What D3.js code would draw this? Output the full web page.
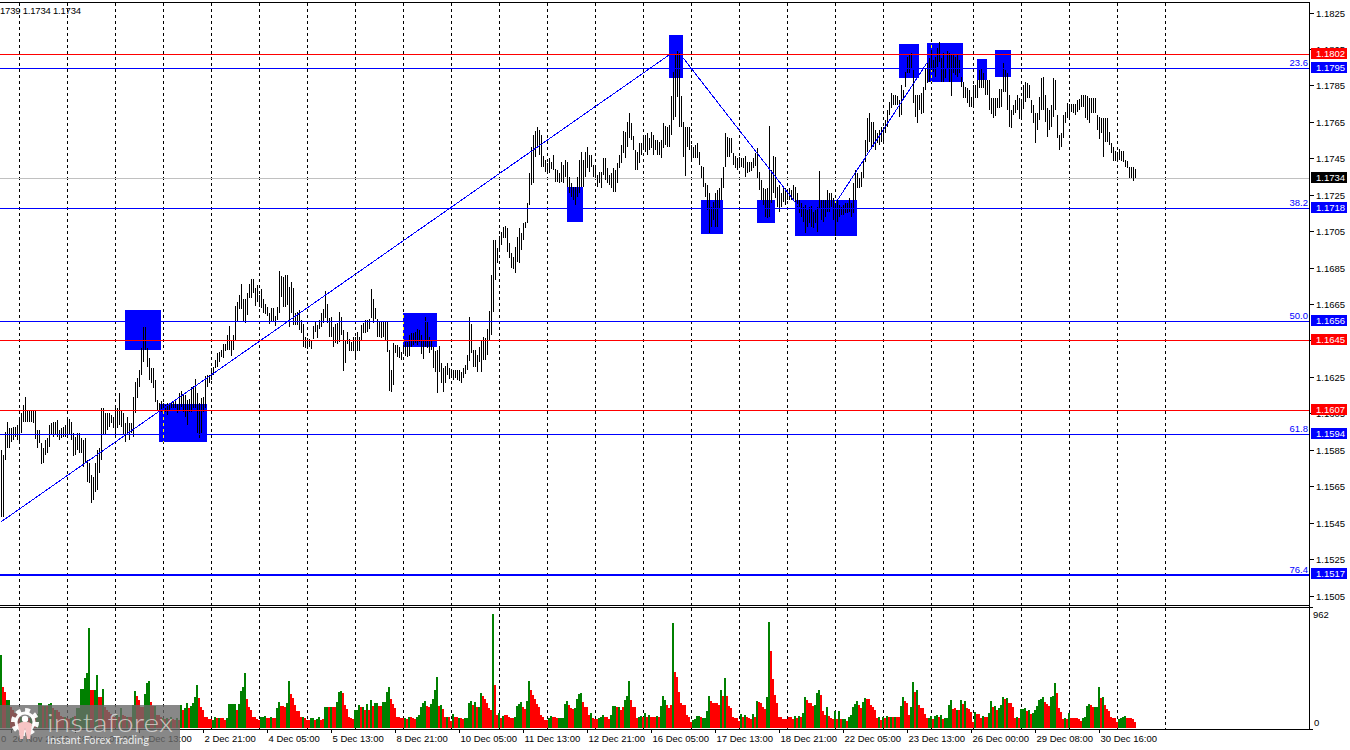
<!DOCTYPE html>
<html><head><meta charset="utf-8">
<script src="https://cdn.jsdelivr.net/npm/d3@7/dist/d3.min.js"></script>
<style>
html,body{margin:0;padding:0;background:#fff;overflow:hidden}
svg{display:block}
text{font-family:"Liberation Sans",Arial,sans-serif;font-size:9.5px}
</style></head><body>
<svg id="c" width="1350" height="750"></svg>
<script>
// H1 bars, oldest first, 12 bars per row
const barHighs=[
1.15851,1.15823,1.15949,1.16004,1.15971,1.15971,1.15977,1.15977,1.15988,1.16032,1.16054,1.16098,
1.16142,1.16070,1.16070,1.16070,1.16065,1.16065,1.15960,1.15960,1.15889,1.15862,1.15905,1.15916,
1.15988,1.15999,1.16004,1.16004,1.16015,1.15960,1.15971,1.15977,1.15988,1.16015,1.16021,1.16004,
1.15944,1.15922,1.15944,1.15944,1.15916,1.15905,1.15916,1.15796,1.15779,1.15713,1.15702,1.15779,
1.15851,1.15862,1.16081,1.16081,1.16054,1.16054,1.16054,1.16043,1.16032,1.16081,1.16081,1.16163,
1.16070,1.16054,1.15999,1.16032,1.15999,1.15999,1.16142,1.16224,1.16246,1.16290,1.16411,1.16526,
1.16526,1.16411,1.16356,1.16301,1.16301,1.16235,1.16125,1.16109,1.16120,1.16109,1.16098,1.16109,
1.16103,1.16114,1.16120,1.16125,1.16103,1.16163,1.16174,1.16152,1.16152,1.16125,1.16131,1.16196,
1.16202,1.16240,1.16163,1.16109,1.16136,1.16142,1.16257,1.16262,1.16262,1.16301,1.16306,1.16345,
1.16383,1.16389,1.16400,1.16432,1.16432,1.16482,1.16531,1.16454,1.16482,1.16641,1.16663,1.16702,
1.16762,1.16680,1.16680,1.16712,1.16762,1.16789,1.16789,1.16740,1.16756,1.16702,1.16734,1.16680,
1.16652,1.16636,1.16603,1.16630,1.16630,1.16586,1.16636,1.16833,1.16806,1.16800,1.16811,1.16811,
1.16745,1.16773,1.16740,1.16603,1.16608,1.16619,1.16564,1.16542,1.16471,1.16465,1.16460,1.16454,
1.16531,1.16553,1.16537,1.16564,1.16603,1.16625,1.16723,1.16652,1.16575,1.16581,1.16526,1.16542,
1.16548,1.16608,1.16581,1.16509,1.16454,1.16498,1.16460,1.16443,1.16471,1.16471,1.16498,1.16471,
1.16537,1.16548,1.16564,1.16564,1.16570,1.16734,1.16680,1.16630,1.16570,1.16559,1.16553,1.16559,
1.16559,1.16559,1.16400,1.16290,1.16438,1.16427,1.16427,1.16416,1.16389,1.16427,1.16443,1.16443,
1.16482,1.16493,1.16493,1.16498,1.16515,1.16509,1.16482,1.16454,1.16581,1.16553,1.16471,1.16454,
1.16416,1.16394,1.16400,1.16421,1.16328,1.16301,1.16312,1.16328,1.16301,1.16295,1.16290,1.16290,
1.16290,1.16290,1.16279,1.16301,1.16317,1.16372,1.16581,1.16542,1.16400,1.16400,1.16372,1.16416,
1.16454,1.16471,1.16465,1.16515,1.16614,1.16811,1.17003,1.17003,1.16959,1.17025,1.17047,1.17075,
1.17080,1.17069,1.16987,1.16932,1.16910,1.16965,1.17020,1.17069,1.17042,1.17097,1.17102,1.17206,
1.17371,1.17514,1.17580,1.17602,1.17624,1.17607,1.17580,1.17465,1.17443,1.17426,1.17454,1.17432,
1.17470,1.17393,1.17388,1.17371,1.17432,1.17415,1.17443,1.17432,1.17349,1.17316,1.17294,1.17294,
1.17349,1.17443,1.17487,1.17443,1.17487,1.17514,1.17470,1.17470,1.17415,1.17415,1.17360,1.17377,
1.17377,1.17454,1.17454,1.17399,1.17360,1.17371,1.17399,1.17388,1.17426,1.17470,1.17525,1.17602,
1.17596,1.17651,1.17701,1.17646,1.17574,1.17498,1.17487,1.17536,1.17536,1.17563,1.17580,1.17591,
1.17563,1.17596,1.17580,1.17552,1.17552,1.17541,1.17552,1.17646,1.17629,1.17624,1.17635,1.17794,
1.17926,1.18019,1.18041,1.18030,1.17794,1.17651,1.17624,1.17624,1.17624,1.17525,1.17514,1.17525,
1.17536,1.17487,1.17410,1.17404,1.17316,1.17305,1.17261,1.17185,1.17212,1.17261,1.17278,1.17289,
1.17344,1.17404,1.17591,1.17569,1.17563,1.17563,1.17481,1.17465,1.17454,1.17459,1.17454,1.17454,
1.17465,1.17432,1.17432,1.17432,1.17454,1.17481,1.17508,1.17377,1.17333,1.17289,1.17283,1.17289,
1.17629,1.17388,1.17465,1.17459,1.17294,1.17305,1.17261,1.17289,1.17289,1.17278,1.17289,1.17278,
1.17305,1.17294,1.17261,1.17223,1.17206,1.17185,1.17196,1.17168,1.17185,1.17190,1.17157,1.17168,
1.17185,1.17382,1.17223,1.17223,1.17223,1.17278,1.17261,1.17261,1.17234,1.17206,1.17223,1.17196,
1.17185,1.17196,1.17206,1.17206,1.17234,1.17206,1.17316,1.17388,1.17371,1.17344,1.17377,1.17443,
1.17552,1.17673,1.17701,1.17651,1.17651,1.17607,1.17591,1.17607,1.17624,1.17624,1.17662,1.17717,
1.17761,1.17810,1.17799,1.17799,1.17794,1.17772,1.17854,1.17827,1.17926,1.18008,1.18019,1.18030,
1.17937,1.17799,1.17799,1.17799,1.17810,1.17843,1.17948,1.17975,1.18003,1.18047,1.17992,1.18008,
1.18057,1.18090,1.18003,1.18030,1.17948,1.18041,1.18030,1.18019,1.18019,1.18008,1.18019,1.17992,
1.17898,1.17871,1.17843,1.17838,1.17827,1.17788,1.17854,1.17854,1.17882,1.17937,1.17948,1.17920,
1.17882,1.17882,1.17882,1.17783,1.17783,1.17783,1.17783,1.17832,1.17832,1.17975,1.17937,1.17920,
1.17799,1.17717,1.17745,1.17772,1.17799,1.17783,1.17772,1.17854,1.17871,1.17865,1.17854,1.17772,
1.17745,1.17701,1.17701,1.17788,1.17893,1.17898,1.17799,1.17728,1.17717,1.17745,1.17893,1.17882,
1.17690,1.17580,1.17591,1.17690,1.17706,1.17756,1.17750,1.17750,1.17750,1.17750,1.17772,1.17777,
1.17799,1.17799,1.17799,1.17794,1.17783,1.17783,1.17783,1.17783,1.17690,1.17679,1.17673,1.17673,
1.17673,1.17673,1.17596,1.17536,1.17514,1.17492,1.17487,1.17503,1.17492,1.17492,1.17443,1.17437,
1.17404,1.17404,1.17404,1.17393];
const barLows=[
1.15483,1.15483,1.15796,1.15862,1.15862,1.15894,1.15905,1.15922,1.15905,1.15894,1.15944,1.16004,
1.16004,1.16004,1.16004,1.16004,1.15999,1.15911,1.15862,1.15889,1.15774,1.15779,1.15823,1.15834,
1.15867,1.15933,1.15922,1.15933,1.15922,1.15905,1.15916,1.15922,1.15922,1.15933,1.15933,1.15905,
1.15818,1.15823,1.15851,1.15834,1.15834,1.15757,1.15785,1.15675,1.15669,1.15560,1.15576,1.15620,
1.15631,1.15724,1.15796,1.15933,1.15933,1.15960,1.15977,1.15999,1.15971,1.15922,1.15971,1.15988,
1.15977,1.15933,1.15894,1.15944,1.15905,1.15944,1.15922,1.16054,1.16136,1.16196,1.16262,1.16334,
1.16400,1.16306,1.16235,1.16218,1.16191,1.16114,1.16070,1.16070,1.16059,1.16081,1.16059,1.16043,
1.16070,1.16081,1.16081,1.16081,1.16054,1.16070,1.16087,1.16059,1.16032,1.15988,1.16059,1.16059,
1.16081,1.16081,1.15944,1.15916,1.15944,1.16059,1.16081,1.16196,1.16218,1.16235,1.16262,1.16301,
1.16306,1.16334,1.16361,1.16356,1.16394,1.16400,1.16400,1.16367,1.16400,1.16454,1.16553,1.16625,
1.16625,1.16553,1.16548,1.16592,1.16685,1.16685,1.16712,1.16641,1.16663,1.16636,1.16630,1.16603,
1.16597,1.16586,1.16542,1.16559,1.16559,1.16531,1.16564,1.16603,1.16691,1.16636,1.16636,1.16647,
1.16526,1.16603,1.16537,1.16537,1.16537,1.16509,1.16493,1.16416,1.16411,1.16405,1.16416,1.16405,
1.16460,1.16498,1.16465,1.16515,1.16526,1.16548,1.16575,1.16548,1.16471,1.16471,1.16416,1.16438,
1.16432,1.16443,1.16482,1.16284,1.16328,1.16432,1.16394,1.16394,1.16394,1.16345,1.16394,1.16394,
1.16454,1.16493,1.16493,1.16498,1.16515,1.16575,1.16548,1.16570,1.16471,1.16471,1.16465,1.16471,
1.16454,1.16389,1.16174,1.16169,1.16207,1.16383,1.16361,1.16356,1.16345,1.16389,1.16367,1.16361,
1.16367,1.16416,1.16427,1.16438,1.16427,1.16443,1.16377,1.16350,1.16416,1.16411,1.16383,1.16400,
1.16301,1.16279,1.16163,1.16279,1.16218,1.16169,1.16218,1.16262,1.16240,1.16246,1.16235,1.16246,
1.16235,1.16229,1.16218,1.16246,1.16268,1.16290,1.16339,1.16383,1.16306,1.16306,1.16279,1.16334,
1.16279,1.16345,1.16345,1.16372,1.16454,1.16482,1.16608,1.16784,1.16877,1.16938,1.16976,1.17014,
1.17014,1.16938,1.16905,1.16850,1.16844,1.16822,1.16883,1.16877,1.16949,1.17003,1.17069,1.17097,
1.17196,1.17305,1.17316,1.17459,1.17514,1.17470,1.17404,1.17404,1.17377,1.17371,1.17371,1.17393,
1.17388,1.17322,1.17322,1.17316,1.17322,1.17316,1.17349,1.17294,1.17261,1.17239,1.17223,1.17196,
1.17239,1.17261,1.17294,1.17294,1.17349,1.17399,1.17377,1.17404,1.17349,1.17349,1.17294,1.17316,
1.17289,1.17360,1.17333,1.17316,1.17305,1.17289,1.17267,1.17267,1.17316,1.17399,1.17426,1.17481,
1.17454,1.17514,1.17563,1.17552,1.17498,1.17388,1.17388,1.17426,1.17470,1.17498,1.17487,1.17470,
1.17498,1.17508,1.17470,1.17498,1.17470,1.17470,1.17454,1.17508,1.17525,1.17514,1.17514,1.17580,
1.17662,1.17679,1.17788,1.17624,1.17624,1.17459,1.17355,1.17514,1.17498,1.17443,1.17454,1.17454,
1.17454,1.17415,1.17344,1.17294,1.17239,1.17168,1.17042,1.17075,1.17113,1.17075,1.17075,1.17179,
1.17223,1.17289,1.17404,1.17459,1.17459,1.17481,1.17415,1.17399,1.17388,1.17399,1.17404,1.17399,
1.17349,1.17371,1.17377,1.17382,1.17399,1.17410,1.17344,1.17278,1.17223,1.17196,1.17130,1.17124,
1.17130,1.17206,1.17261,1.17234,1.17185,1.17157,1.17185,1.17212,1.17196,1.17223,1.17223,1.17223,
1.17223,1.17206,1.17185,1.17152,1.17130,1.17102,1.17042,1.17075,1.17097,1.17075,1.17069,1.17097,
1.17047,1.17179,1.17113,1.17102,1.17130,1.17157,1.17157,1.17185,1.17113,1.17025,1.17102,1.17130,
1.17141,1.17141,1.17152,1.17152,1.17157,1.17130,1.17152,1.17223,1.17289,1.17289,1.17294,1.17344,
1.17432,1.17487,1.17541,1.17508,1.17514,1.17498,1.17536,1.17525,1.17541,1.17536,1.17591,1.17624,
1.17690,1.17728,1.17745,1.17745,1.17745,1.17679,1.17690,1.17772,1.17843,1.17920,1.17920,1.17948,
1.17756,1.17679,1.17646,1.17717,1.17695,1.17701,1.17827,1.17865,1.17871,1.17937,1.17926,1.17898,
1.17953,1.17981,1.17871,1.17871,1.17893,1.17948,1.17871,1.17794,1.17920,1.17909,1.17898,1.17920,
1.17843,1.17783,1.17783,1.17756,1.17734,1.17734,1.17745,1.17783,1.17783,1.17838,1.17838,1.17838,
1.17799,1.17799,1.17717,1.17695,1.17673,1.17684,1.17728,1.17728,1.17734,1.17816,1.17816,1.17717,
1.17624,1.17618,1.17690,1.17701,1.17717,1.17668,1.17673,1.17723,1.17761,1.17783,1.17783,1.17701,
1.17646,1.17536,1.17607,1.17662,1.17717,1.17717,1.17651,1.17569,1.17607,1.17624,1.17679,1.17717,
1.17563,1.17498,1.17514,1.17563,1.17646,1.17673,1.17673,1.17706,1.17701,1.17690,1.17706,1.17717,
1.17734,1.17734,1.17673,1.17662,1.17646,1.17701,1.17701,1.17701,1.17607,1.17558,1.17591,1.17459,
1.17541,1.17541,1.17525,1.17481,1.17437,1.17437,1.17437,1.17443,1.17437,1.17432,1.17404,1.17399,
1.17344,1.17344,1.17327,1.17344];
// tick volume per bar: positive = rising bar (green), negative = falling bar (red)
const signedVolume=[
616,-343,-306,236,236,-180,-152,-130,-118,-105,96,88,-84,90,-84,96,110,-100,120,208,208,-186,186,-186,
200,208,-170,150,-150,-135,-100,-90,90,-84,-76,84,90,-100,165,165,326,326,419,461,848,-320,-320,320,
447,-264,-264,326,-180,-150,-135,-118,-96,-96,110,-96,165,-110,-100,96,-96,-90,194,312,-270,-236,-180,-180,
287,376,396,-222,-185,185,-110,-110,-90,84,-76,84,-76,90,-76,-70,84,-70,194,-152,166,208,-166,185,
208,259,362,-250,-180,-152,-96,-90,-73,-73,67,90,-82,84,-82,-82,-67,84,199,199,199,199,-150,199,
315,343,461,-245,-174,-152,-90,-90,-73,-67,90,90,98,-87,-87,90,-87,-87,166,216,-188,-188,-180,213,
396,-287,-250,-197,-143,-143,-96,96,-87,-67,-67,82,82,-70,76,96,-70,-80,180,180,-180,180,-180,-180,
222,306,312,-298,-194,-157,-96,-82,-76,152,152,191,-174,174,-152,199,-152,236,-185,213,213,-185,-185,222,
222,306,343,-247,-202,-166,-90,-90,-84,-84,84,-73,96,-90,-84,-73,90,110,180,213,228,-185,-180,202,
244,320,427,-185,191,-157,-90,90,-90,
-62,118,-90,-90,84,-84,-73,84,84,214,228,-194,222,-180,180,295,-273,-242,-208,-169,-152,961,-362,-110,
124,-82,101,-110,-110,-96,-87,-87,90,185,202,219,-180,-160,228,396,-320,-278,-242,-202,-174,-110,-90,-67,
-67,82,101,-90,-90,-82,84,84,87,202,228,-197,-166,-157,166,245,287,295,-219,-180,-180,-110,124,-87,
-76,-76,87,96,110,-93,-93,-73,110,188,185,-174,174,-152,-174,236,270,396,-236,-174,-174,-82,90,101,
-90,124,-90,110,-93,-93,-93,101,-90,185,270,236,-194,-169,-194,885,-472,-430,-303,-211,-194,-194,-110,-90,
-53,67,76,101,101,-90,84,84,143,270,-228,-211,-211,-211,-194,320,-270,421,-270,-185,-166,-96,-87,-87,
-62,118,-90,110,-96,-84,-76,118,-93,228,-219,-208,-174,-157,261,894,-649,-413,-278,-211,-93,-93,-73,-73,
-76,-93,-93,-76,98,-82,98,-93,126,261,-236,-211,-211,-185,194,295,320,-278,-143,-110,177,-101,-84,-76,
143,-76,143,-76,76,76,-59,93,110,177,202,228,-194,-169,219,253,-244,-244,-194,-177,-152,-84,93,-67,
93,-84,101,-90,90,-90,96,-90,-90,
185,261,-228,-211,-110,177,388,-303,320,-194,-169,-169,-118,-84,84,101,-73,101,110,-93,110,-76,84,84,
194,236,-160,-169,152,-152,236,-202,228,-169,-160,-135,-51,135,-118,-118,-84,101,-93,-93,126,228,-177,185,
-152,169,194,261,-244,253,-211,-211,-177,-84,93,-84,160,160,169,-143,152,-118,126,152,185,236,244,261,
-219,-202,-185,261,270,379,-295,-169,-135,-76,84,-76,126,-87,-84,-84,-84,-76,-59,87,93,185,202,-194,
-177,177,177,346,-253,261,-194,-160,-143,-93,-84,-84,-51,73,84,93,101,-84,-84,-84,-76,-51];

// bar numbers on which each calendar day starts (dashed grid)
const dayStartBars=[9,33,57,81,105,129,153,177,201,225,249,273,297,321,345,369,393,417,441,465,486,510,534,558,582];
const xTickBars=[5,37,69,101,133,165,197,229,261,293,325,357,389,421,453,485,517,549];
const xTickLabels=["26 Nov 21:00","28 Nov 05:00","1 Dec 13:00","2 Dec 21:00","4 Dec 05:00","5 Dec 13:00","8 Dec 21:00","10 Dec 05:00","11 Dec 13:00","12 Dec 21:00","16 Dec 05:00","17 Dec 13:00","18 Dec 21:00","22 Dec 05:00","23 Dec 13:00","26 Dec 00:00","29 Dec 08:00","30 Dec 16:00"];
const priceTicks=[1.1825,1.1805,1.1785,1.1765,1.1745,1.1725,1.1705,1.1685,1.1665,1.1645,1.1625,1.1605,1.1585,1.1565,1.1545,1.1525,1.1505];
const lastPrice=1.17342;
const fibPrices=[1.17946,1.17178,1.16559,1.15938,1.15166];
const fibLabels=["23.6","38.2","50.0","61.8","76.4"];
const redPrices=[1.18024,1.16454,1.1607];
// signal zones: first bar, last bar, top price, bottom price
const zones=[[62,80,1.16619,1.16400],[79,103,1.16103,1.15894],[201,218,1.16603,1.16416],[283,291,1.17294,1.17102],
[334,341,1.18129,1.17893],[350,361,1.17223,1.17036],[378,387,1.17223,1.17097],[397,428,1.17223,1.17025],
[449,459,1.18079,1.17893],[463,481,1.18085,1.17871],[488,493,1.17997,1.17882],[497,505,1.18047,1.17898]];
// trend lines: bar, price, bar, price
const trendLines=[[-0.5,1.15455,334.5,1.18025],[340.5,1.18008,399.5,1.17174],[418,1.17223,463,1.17981]];
const volMax=962;

const svg=d3.select("#c").attr("shape-rendering","crispEdges");
const x=d3.scaleLinear().domain([0,654]).range([1.5,1309.5]);
const y=d3.scaleLinear().domain([1.1825,1.1505]).range([13,596]);
const yV=d3.scaleLinear().domain([0,volMax]).range([728,614]);
const barStep=x(1)-x(0);
const AX=1309.5;

// grid
const dash="3,3";
svg.append("g").selectAll("line").data(dayStartBars).join("line")
 .attr("x1",d=>x(d)).attr("x2",d=>x(d)).attr("y1",3).attr("y2",605)
 .attr("stroke","#000").attr("stroke-dasharray",dash);
svg.append("g").selectAll("line").data(dayStartBars).join("line")
 .attr("x1",d=>x(d)).attr("x2",d=>x(d)).attr("y1",608).attr("y2",729)
 .attr("stroke","#000").attr("stroke-dasharray",dash);

// last price line
svg.append("line").attr("x1",0).attr("x2",AX).attr("y1",y(lastPrice)).attr("y2",y(lastPrice)).attr("stroke","#c0c0c0");

// zones
svg.append("g").selectAll("rect").data(zones).join("rect")
 .attr("x",d=>x(d[0])-0.5).attr("width",d=>x(d[1])-x(d[0]))
 .attr("y",d=>y(d[2])).attr("height",d=>y(d[3])-y(d[2]))
 .attr("fill","#0000ff");
const defs=svg.append("defs");
defs.append("clipPath").attr("id","zc").selectAll("rect").data(zones).join("rect")
 .attr("x",d=>x(d[0])-0.5).attr("width",d=>x(d[1])-x(d[0]))
 .attr("y",d=>y(d[2])).attr("height",d=>y(d[3])-y(d[2]));
svg.append("g").attr("clip-path","url(#zc)").selectAll("line").data(dayStartBars).join("line")
 .attr("x1",d=>x(d)).attr("x2",d=>x(d)).attr("y1",3).attr("y2",605)
 .attr("stroke","#ffff00").attr("stroke-dasharray",dash);

// price bars
svg.append("g").selectAll("line").data(barHighs).join("line")
 .attr("x1",(d,i)=>x(i)).attr("x2",(d,i)=>x(i))
 .attr("y1",d=>Math.round(y(d))).attr("y2",(d,i)=>Math.round(y(barLows[i])))
 .attr("stroke","#000");

// trend lines
svg.append("g").selectAll("line").data(trendLines).join("line")
 .attr("x1",d=>x(d[0])).attr("y1",d=>y(d[1])).attr("x2",d=>x(d[2])).attr("y2",d=>y(d[3]))
 .attr("stroke","#0000ff");

// horizontal levels
svg.append("g").selectAll("line").data(fibPrices).join("line")
 .attr("x1",0).attr("x2",AX).attr("y1",d=>y(d)).attr("y2",d=>y(d))
 .attr("stroke","#0000ff").attr("stroke-width",(d,i)=>i==4?2:1);
svg.append("g").selectAll("line").data(redPrices).join("line")
 .attr("x1",0).attr("x2",AX).attr("y1",d=>y(d)).attr("y2",d=>y(d))
 .attr("stroke","#ff0000");

// volume
svg.append("g").selectAll("rect").data(signedVolume).join("rect")
 .attr("x",(d,i)=>x(i)-1.5).attr("width",barStep)
 .attr("y",d=>yV(Math.abs(d))).attr("height",d=>yV(0)-yV(Math.abs(d)))
 .attr("fill",d=>d>0?"#008000":"#ff0000");

// frames
const fr=svg.append("g").attr("stroke","#000");
fr.append("line").attr("x1",0).attr("x2",AX+0.5).attr("y1",2.5).attr("y2",2.5);
fr.append("line").attr("x1",0).attr("x2",AX+0.5).attr("y1",605.5).attr("y2",605.5);
fr.append("line").attr("x1",0).attr("x2",AX+0.5).attr("y1",607.5).attr("y2",607.5);
fr.append("line").attr("x1",0).attr("x2",AX+0.5).attr("y1",729.5).attr("y2",729.5);
fr.append("line").attr("x1",AX).attr("x2",AX).attr("y1",2).attr("y2",730);

// price axis
const pa=svg.append("g");
pa.selectAll("line").data(priceTicks).join("line")
 .attr("x1",AX).attr("x2",AX+4).attr("y1",d=>y(d)).attr("y2",d=>y(d)).attr("stroke","#000");
pa.selectAll("text").data(priceTicks).join("text")
 .attr("x",1316).attr("y",d=>y(d)+3.5).text(d=>d.toFixed(4));

// value boxes
const boxes=[...fibPrices.map(p=>({p,c:"#0000ff"})),...redPrices.map(p=>({p,c:"#ff0000"})),{p:lastPrice,c:"#000"}];
const bx=svg.append("g").selectAll("g").data(boxes).join("g");
bx.append("rect").attr("x",1311).attr("width",36).attr("y",d=>Math.floor(y(d.p))-6).attr("height",11).attr("fill",d=>d.c);
bx.append("text").attr("x",1316).attr("y",d=>Math.floor(y(d.p))+3).attr("fill","#fff").text(d=>d.p.toFixed(4));

// fib labels
svg.append("g").selectAll("text").data(fibPrices).join("text")
 .attr("x",1308).attr("y",d=>y(d)-2).attr("text-anchor","end").attr("fill","#0000ff").text((d,i)=>fibLabels[i]);

// volume axis
svg.append("text").attr("x",1313).attr("y",yV(volMax)+3.5).text(volMax);
svg.append("text").attr("x",1314).attr("y",726).text(0);
svg.append("line").attr("x1",AX).attr("x2",AX+3).attr("y1",607.5).attr("y2",607.5).attr("stroke","#000");
svg.append("line").attr("x1",AX).attr("x2",AX+3).attr("y1",729.5).attr("y2",729.5).attr("stroke","#000");

// time axis
const ta=svg.append("g");
ta.selectAll("line").data(xTickBars).join("line")
 .attr("x1",d=>x(d)).attr("x2",d=>x(d)).attr("y1",730).attr("y2",733).attr("stroke","#000");
ta.selectAll("text").data(xTickBars).join("text")
 .attr("x",d=>x(d)+1).attr("y",742).text((d,i)=>xTickLabels[i]);
svg.append("text").attr("x",1).attr("y",742).text("0");

// header
svg.append("text").attr("x",0).attr("y",14).attr("textLength",81).attr("lengthAdjust","spacing").text("1739 1.1734 1.1734");

// watermark
const wm=svg.append("g").attr("shape-rendering","auto");
wm.append("rect").attr("x",0).attr("y",705).attr("width",180).attr("height",45).attr("fill","#6a6a6a").attr("fill-opacity",0.8);
const g=wm.append("g").attr("transform","translate(25,722)").attr("fill","none");
g.append("circle").attr("r",11).attr("stroke","#fff").attr("stroke-width",6).attr("stroke-dasharray","4.5,4.1").attr("opacity",.95);
g.append("circle").attr("r",9).attr("stroke","#fff").attr("stroke-width",3).attr("opacity",.95);
g.append("circle").attr("cy",-3).attr("r",3.2).attr("fill","#fff").attr("stroke","none");
g.append("path").attr("d","M-7,2C-3,-1 3,-1 7,2L5,17H2L0,6L-2,17H-5Z").attr("fill","#f6c4c4").attr("stroke","none");
wm.append("text").attr("x",47).attr("y",732).attr("fill","#fff").attr("fill-opacity",.62)
 .style("font-family","Lato,'Open Sans',sans-serif").style("font-size","25px").style("font-weight",300)
 .attr("textLength",126).attr("lengthAdjust","spacingAndGlyphs").text("instaforex");
wm.append("text").attr("x",47).attr("y",744).attr("fill","#fff").attr("fill-opacity",.85)
 .style("font-family","Lato,'Open Sans',sans-serif").style("font-size","11px")
 .attr("textLength",102).attr("lengthAdjust","spacingAndGlyphs").text("Instant Forex Trading");
</script></body></html>
